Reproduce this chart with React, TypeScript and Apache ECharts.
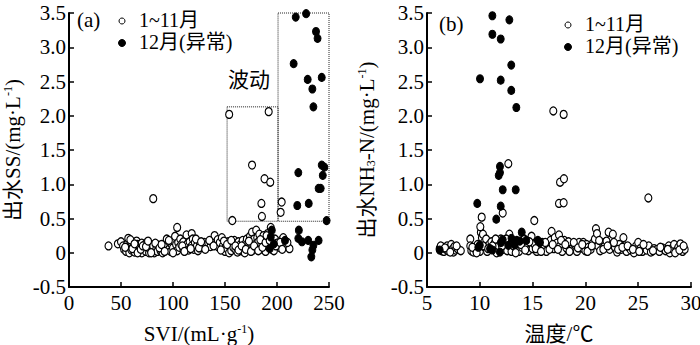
import React, { useEffect, useRef } from "react";
import * as echarts from "echarts";

// ---------- Panel (a): SVI vs effluent SS ----------
const sviTicks = [0, 50, 100, 150, 200, 250];
const ssTicks = [-0.5, 0, 0.5, 1.0, 1.5, 2.0, 2.5, 3.0, 3.5];

const ssOpen: [number, number][] = [
  [38, 0.1], [47, 0.13], [50, 0.16], [52, 0.1], [53, 0.05], [55, 0.02], [56, 0.13], [57, 0.21], [58, 0.08], [58, 0.0],
  [60, 0.15], [60, 0.04], [62, 0.1], [63, 0.01], [64, 0.06], [65, 0.17], [66, 0.12], [67, 0.03], [68, 0.09], [70, 0.0],
  [70, 0.14], [72, 0.06], [73, 0.12], [74, 0.02], [75, 0.15], [76, 0.08], [77, 0.0], [78, 0.05], [79, 0.12], [80, 0.03],
  [81, 0.1], [82, 0.0], [84, 0.06], [85, 0.02], [86, 0.11], [88, 0.03], [90, 0.0], [91, 0.07], [92, 0.13], [93, 0.04],
  [94, 0.2], [95, 0.1], [96, 0.05], [97, 0.15], [98, 0.02], [99, 0.12], [100, 0.07], [101, 0.17], [102, 0.24], [103, 0.12],
  [104, 0.03], [105, 0.15], [106, 0.08], [107, 0.2], [108, 0.12], [110, 0.05], [110, 0.16], [112, 0.09], [113, 0.26], [114, 0.13],
  [115, 0.04], [116, 0.16], [118, 0.1], [118, 0.28], [119, 0.2], [120, 0.05], [121, 0.15], [123, 0.1], [124, 0.03], [126, 0.13],
  [128, 0.08], [130, 0.15], [132, 0.1], [134, 0.14], [136, 0.09], [138, 0.15], [140, 0.25], [141, 0.12], [143, 0.19], [144, 0.08],
  [145, 0.15], [147, 0.22], [148, 0.1], [150, 0.02], [151, 0.1], [152, 0.06], [153, 0.16], [154, 0.0], [155, 0.1], [156, 0.03],
  [157, 0.14], [158, 0.08], [159, 0.18], [160, 0.05], [161, 0.12], [162, 0.01], [163, 0.16], [164, 0.08], [165, 0.12], [166, 0.03],
  [167, 0.18], [168, 0.1], [169, 0.0], [170, 0.14], [171, 0.2], [172, 0.06], [173, 0.1], [174, 0.24], [175, 0.15], [176, 0.3],
  [177, 0.04], [178, 0.2], [179, 0.12], [180, 0.33], [180, 0.08], [181, 0.22], [182, 0.16], [183, 0.27], [184, 0.05], [185, 0.12],
  [186, 0.2], [187, 0.25], [188, 0.1], [189, 0.02], [190, 0.15], [191, 0.28], [192, 0.1], [194, 0.37], [195, 0.05], [196, 0.12],
  [198, 0.2], [200, 0.14], [202, 0.08], [204, 0.18], [206, 0.22], [208, 0.12], [212, 0.06],
  [54, 0.08], [59, 0.19], [61, 0.06], [63, 0.13], [66, 0.0], [69, 0.05], [71, 0.1], [74, 0.09], [76, 0.17], [79, 0.0],
  [83, 0.14], [87, 0.07], [89, 0.12], [92, 0.02], [96, 0.18], [100, 0.0], [109, 0.1], [111, 0.02], [117, 0.06], [122, 0.2],
  [125, 0.07], [127, 0.16], [131, 0.05], [135, 0.18], [139, 0.1], [146, 0.04], [149, 0.17], [152, 0.12], [156, 0.18], [160, 0.1],
  [163, 0.04], [166, 0.1], [170, 0.05], [173, 0.17], [175, 0.02], [178, 0.1], [182, 0.03], [184, 0.19], [186, 0.08], [189, 0.15],
  [190, 0.25], [193, 0.18], [197, 0.03], [199, 0.1], [203, 0.15], [205, 0.05], [210, 0.15],
  [104, 0.37], [81, 0.79], [154, 2.02], [192, 2.06], [176, 1.28], [188, 1.08], [193.5, 1.03], [185, 0.72], [185.5, 0.53],
  [157, 0.47], [204.5, 0.74], [203.5, 0.59],
];

const ssFilled: [number, number][] = [
  [218, 3.44], [228, 3.49], [237.5, 3.23], [239, 3.13], [216, 2.76], [229.5, 2.53], [243, 2.56], [234, 2.39], [235, 2.13],
  [243, 1.28], [245.5, 1.25], [244, 1.13], [220.5, 1.17], [240, 0.94], [242, 0.94], [219.5, 0.69], [230.5, 0.72], [247.7, 0.47],
  [221, 0.33], [220.5, 0.21], [224, 0.16], [230, 0.18], [234, 0.04], [240, 0.18], [235, 0.11], [207.7, 0.18], [195, 0.33],
  [194, 0.23], [197, 0.13], [193, 0.06], [233, -0.06],
];

// ---------- Panel (b): temperature vs effluent NH3-N ----------
const tempTicks = [5, 10, 15, 20, 25, 30];
const nhTicks = [-0.5, 0, 0.5, 1.0, 1.5, 2.0, 2.5, 3.0, 3.5];

const nhOpen: [number, number][] = [
  [6.2, 0.06], [6.4, 0.03], [6.5, 0.08], [6.6, 0.02], [6.8, 0.05], [6.9, 0.1], [7.0, 0.03], [7.1, 0.07], [7.3, 0.12], [7.4, 0.05],
  [7.5, 0.01], [7.6, 0.09], [7.7, 0.04], [7.9, 0.06], [8.2, 0.03],
  [9.1, 0.2], [9.1, 0.1], [9.2, 0.03], [9.4, 0.01], [9.6, 0.05], [9.8, 0.12], [10.0, 0.02], [10.1, 0.3], [10.2, 0.22], [10.3, 0.27],
  [10.4, 0.15], [10.5, 0.08], [10.6, 0.2], [10.7, 0.02], [10.9, 0.12], [11.1, 0.16], [11.3, 0.06], [11.4, 0.14], [11.6, 0.0], [11.8, 0.1],
  [12.0, 0.2], [12.2, 0.05], [12.4, 0.12], [12.6, 0.03], [12.8, 0.27], [13.0, 0.02], [13.2, 0.1], [13.5, 0.05], [13.7, 0.02], [14.0, 0.08],
  [14.2, 0.2], [14.5, 0.1], [14.6, 0.03], [14.9, 0.24], [15.0, 0.06], [15.2, 0.12], [15.4, 0.02], [15.6, 0.1], [15.9, 0.15], [16.1, 0.08],
  [16.3, 0.02], [16.5, 0.12], [16.7, 0.18], [16.8, 0.31], [17.0, 0.06], [17.1, 0.22], [17.3, 0.14], [17.5, 0.26], [17.6, 0.1], [17.8, 0.02],
  [18.0, 0.18], [18.2, 0.07], [18.4, 0.16], [18.7, 0.05], [19.0, 0.12], [19.2, 0.02], [19.4, 0.15], [19.6, 0.07], [19.8, 0.15], [20.0, 0.03],
  [20.1, 0.12], [20.3, 0.08], [20.5, 0.05], [20.7, 0.14], [20.9, 0.2], [21.0, 0.35], [21.1, 0.28], [21.2, 0.1], [21.4, 0.03], [21.6, 0.15],
  [21.8, 0.09], [22.0, 0.17], [22.2, 0.3], [22.3, 0.05], [22.5, 0.12], [22.6, 0.27], [22.8, 0.08], [23.0, 0.01], [23.2, 0.12], [23.4, 0.05],
  [23.6, 0.22], [23.7, 0.1], [23.9, 0.02], [24.1, 0.08], [24.3, 0.04], [24.6, 0.0], [24.8, 0.1], [25.0, 0.15], [25.2, 0.06], [25.4, 0.02],
  [25.6, 0.09], [25.8, 0.04], [26.0, 0.1], [26.2, 0.01], [26.5, 0.06], [26.8, 0.05], [27.0, 0.02], [27.3, 0.07], [27.6, 0.03], [27.9, 0.1],
  [28.0, 0.0], [28.2, 0.06], [28.4, 0.12], [28.6, 0.03], [28.8, 0.08], [29.0, 0.13], [29.2, 0.02], [29.4, 0.05],
  [6.3, 0.1], [6.7, 0.07], [7.2, 0.01], [7.8, 0.1], [9.3, 0.08], [9.7, 0.0], [10.3, 0.1], [10.8, 0.06], [11.2, 0.1], [11.5, 0.2],
  [12.1, 0.1], [12.5, 0.2], [13.1, 0.15], [13.4, 0.0], [13.9, 0.12], [14.3, 0.04], [14.7, 0.16], [15.3, 0.06], [15.8, 0.02], [16.2, 0.15],
  [16.6, 0.05], [16.9, 0.12], [17.4, 0.05], [17.7, 0.18], [18.1, 0.12], [18.5, 0.02], [18.9, 0.15], [19.3, 0.07], [19.7, 0.12], [20.2, 0.02],
  [20.6, 0.1], [21.3, 0.18], [21.7, 0.05], [22.1, 0.1], [22.7, 0.15], [23.1, 0.05], [23.5, 0.08], [24.0, 0.1], [24.5, 0.05], [25.1, 0.02],
  [25.5, 0.12], [26.4, 0.03], [27.1, 0.08], [27.8, 0.05], [28.5, 0.0], [28.9, 0.04], [29.3, 0.1],
  [16.96, 2.07], [17.94, 2.02], [12.7, 1.3], [10.18, 0.52], [12.17, 0.58], [15.16, 0.47], [10.05, 0.38], [17.6, 1.03], [17.97, 1.08],
  [17.5, 0.72], [17.94, 0.73], [25.96, 0.8],
];

const nhFilled: [number, number][] = [
  [11.19, 3.46], [12.8, 3.4], [11.19, 3.19], [11.98, 3.12], [12.98, 2.74], [10.02, 2.54], [11.98, 2.52], [12.98, 2.37], [13.46, 2.12],
  [11.91, 1.26], [11.79, 1.13], [11.91, 1.17], [12.17, 0.92], [13.4, 0.92], [9.76, 0.72], [11.98, 0.68], [11.56, 0.49],
  [6.2, 0.04], [9.86, 0.08], [10.0, 0.11], [10.97, 0.06], [11.2, 0.04], [11.9, 0.01], [12.17, 0.19], [12.7, 0.11], [13.0, 0.21],
  [13.5, 0.18], [13.97, 0.3], [13.8, 0.17], [14.4, 0.18], [13.3, 0.12], [15.5, 0.18], [15.7, 0.15], [12.0, 0.15],
];

const legendNames = ["1~11月", "12月(异常)"];

const FONT = "Liberation Serif, Noto Sans CJK SC, serif";

export default function App() {
  const ref = useRef<HTMLDivElement>(null);

  useEffect(() => {
    if (!ref.current) return;
    const chart = echarts.init(ref.current, undefined, { renderer: "svg" });

    const rich = {
      sup: { fontSize: 12, verticalAlign: "top", fontFamily: FONT, color: "#000", padding: [0, 0, 8, 0] },
      sub: { fontSize: 12, verticalAlign: "bottom", fontFamily: FONT, color: "#000", padding: [8, 0, 0, 0] },
    };

    const fmtY = (v: number) => (v === 0 ? "0" : v.toFixed(1));

    const xCommon = (ticks: number[], name: string) => ({
      type: "value",
      min: ticks[0],
      max: ticks[ticks.length - 1],
      interval: ticks[1] - ticks[0],
      name,
      nameLocation: "middle",
      nameGap: 36,
      nameTextStyle: { fontSize: 21, color: "#000", fontFamily: FONT, rich },
      axisLine: { show: true, onZero: false, lineStyle: { color: "#000", width: 2 } },
      axisTick: { show: true, inside: true, length: 5, lineStyle: { color: "#000", width: 1.5 } },
      axisLabel: { fontSize: 21, color: "#000", fontFamily: FONT, margin: 5 },
      splitLine: { show: false },
    });

    const yCommon = (ticks: number[], name: string, gap: number) => ({
      type: "value",
      min: ticks[0],
      max: ticks[ticks.length - 1],
      interval: ticks[1] - ticks[0],
      name,
      nameLocation: "middle",
      nameRotate: 90,
      nameGap: gap,
      nameTextStyle: { fontSize: 21, color: "#000", fontFamily: FONT, rich },
      axisLine: { show: true, onZero: false, lineStyle: { color: "#000", width: 2 } },
      axisTick: { show: true, inside: true, length: 5, lineStyle: { color: "#000", width: 1.5 } },
      axisLabel: { fontSize: 21, color: "#000", fontFamily: FONT, margin: 3, formatter: fmtY },
      splitLine: { show: false },
    });

    const openStyle = { color: "#fff", borderColor: "#000", borderWidth: 1.2, opacity: 1 };
    const fillStyle = { color: "#000", borderColor: "#000", borderWidth: 1, opacity: 1 };

    const legendGraphic = (cx: number, y1: number, y2: number) => [
      { type: "circle", shape: { cx, cy: y1 + 1, r: 3 }, style: { fill: "#fff", stroke: "#000", lineWidth: 1 } },
      { type: "circle", shape: { cx, cy: y2 + 1, r: 3.5 }, style: { fill: "#000", stroke: "#000", lineWidth: 1 } },
      { type: "text", x: cx + 17, y: y1, style: { text: legendNames[0], fontSize: 20, fontFamily: FONT, fill: "#000", textVerticalAlign: "middle" } },
      { type: "text", x: cx + 17, y: y2, style: { text: legendNames[1], fontSize: 20, fontFamily: FONT, fill: "#000", textVerticalAlign: "middle" } },
    ];

    chart.setOption({
      animation: false,
      backgroundColor: "#fff",
      textStyle: { fontFamily: FONT },
      grid: [
        { left: 69, top: 13, width: 260, height: 274, outerBoundsMode: "none", containLabel: false },
        { left: 427, top: 13, width: 264, height: 274, outerBoundsMode: "none", containLabel: false },
      ],
      xAxis: [
        { ...xCommon(sviTicks, "SVI/(mL·g{sup|-1})"), gridIndex: 0 },
        { ...xCommon(tempTicks, "温度/℃"), gridIndex: 1 },
      ],
      yAxis: [
        { ...yCommon(ssTicks, "出水SS/(mg·L{sup|-1})", 46), gridIndex: 0 },
        { ...yCommon(nhTicks, "出水NH{sub|3}-N/(mg·L{sup|-1})", 50), gridIndex: 1 },
      ],
      series: [
        {
          type: "scatter", name: legendNames[0], xAxisIndex: 0, yAxisIndex: 0, data: ssOpen,
          symbol: "circle", symbolSize: [7, 8], itemStyle: openStyle,
          markArea: {
            silent: true,
            itemStyle: { color: "rgba(0,0,0,0)", borderColor: "#222", borderWidth: 1, borderType: "dotted" },
            data: [
              [{ coord: [152, 2.13] }, { coord: [201, 0.46] }],
              [{ coord: [201, 3.53] }, { coord: [252, 0.46] }],
            ],
          },
        },
        { type: "scatter", name: legendNames[1], xAxisIndex: 0, yAxisIndex: 0, data: ssFilled, symbol: "circle", symbolSize: [7, 8], itemStyle: fillStyle },
        { type: "scatter", name: legendNames[0], xAxisIndex: 1, yAxisIndex: 1, data: nhOpen, symbol: "circle", symbolSize: [7, 8], itemStyle: openStyle },
        { type: "scatter", name: legendNames[1], xAxisIndex: 1, yAxisIndex: 1, data: nhFilled, symbol: "circle", symbolSize: [7, 8], itemStyle: fillStyle },
      ],
      graphic: [
        { type: "text", x: 77, y: 20, style: { text: "(a)", fontSize: 21, fontFamily: FONT, fill: "#000", textVerticalAlign: "middle" } },
        { type: "text", x: 439, y: 24, style: { text: "(b)", fontSize: 21, fontFamily: FONT, fill: "#000", textVerticalAlign: "middle" } },
        { type: "text", x: 228, y: 80, style: { text: "波动", fontSize: 21, fontFamily: FONT, fill: "#000", textVerticalAlign: "middle" } },
        ...legendGraphic(122, 20, 42),
        ...legendGraphic(568, 24, 46),
      ],
    });

    return () => chart.dispose();
  }, []);

  return <div ref={ref} style={{ position: "fixed", left: 0, top: 0, width: 700, height: 345, background: "#fff" }} />;
}
